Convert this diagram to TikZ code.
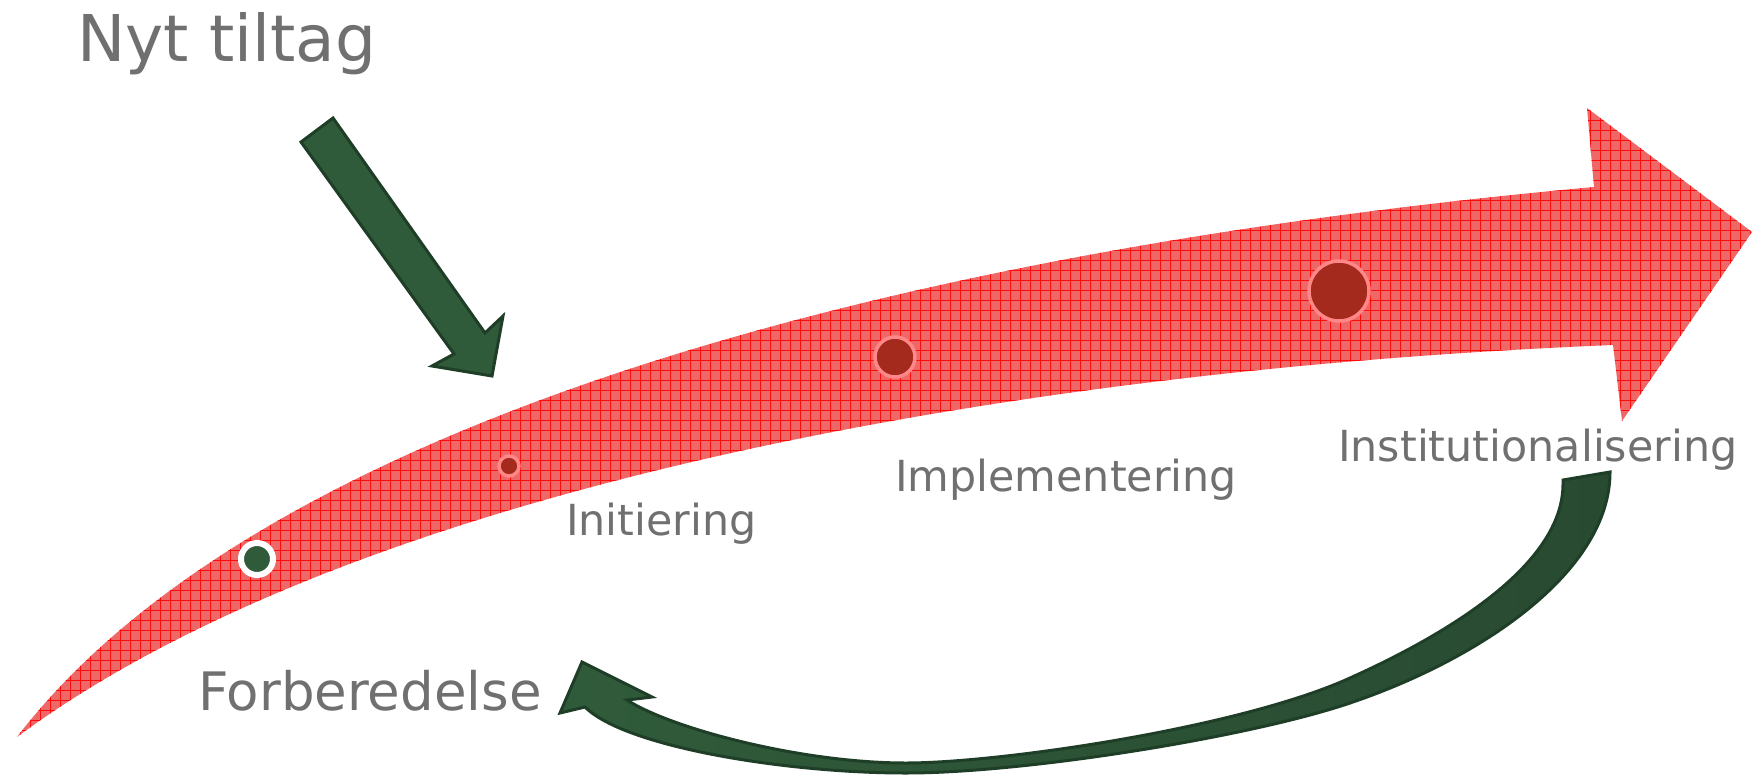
\documentclass[tikz,border=0pt]{standalone}
\usepackage{fontspec}
\setmainfont{DejaVu Sans}
\usepackage{tikz}
\definecolor{arrowred}{RGB}{238,104,104}
\definecolor{gridred}{RGB}{255,10,10}
\definecolor{dotred}{RGB}{165,42,30}
\definecolor{halored}{RGB}{255,135,135}
\definecolor{leafgreen}{RGB}{48,91,58}
\definecolor{deepleaf}{RGB}{40,74,49}
\definecolor{darkleaf}{RGB}{31,62,39}
\definecolor{labelgray}{RGB}{112,112,112}
\tikzset{
	phase/.style = {text = labelgray, inner sep = 0pt, anchor = base west, font = \fontsize{42.8}{50}\selectfont},
	greenarrow/.style = {fill = leafgreen, draw = darkleaf, line width = 3pt, line join = miter},
	stagedot/.style = {fill = dotred, draw = halored, line width = 3.5pt}
}

\begin{document}
\begin{tikzpicture}[x = 1pt, y = -1pt]
\useasboundingbox (0,0) rectangle (1752,776);

% the red process arrow with its grid texture
\fill[arrowred, path picture = {\draw[gridred, line width = 0.9pt, step = 10pt] (path picture bounding box.south west) grid (path picture bounding box.north east);}]
	(17,737) .. controls (260,420) and (900,250) .. (1594,187)
	-- (1587,108) -- (1752,232) -- (1622,421) -- (1613,345)
	.. controls (1000,370) and (350,490) .. (17,737)
	-- cycle;

% stages on the arrow
\draw[fill = leafgreen, draw = white, line width = 6pt] (257,559) circle[radius = 16];
\foreach \x/\y/\r in {509/466/10, 895/357/20, 1339/291/30}
	\draw[stagedot] (\x,\y) circle[radius = \r];

% new initiative coming in
\draw[greenarrow] (333,118) -- (485,333) -- (503,316) -- (492,376) -- (432,366) -- (454,354) -- (301,142) -- cycle;

% feedback loop back to the start
\draw[greenarrow, left color = leafgreen, right color = deepleaf] (1610,472)
	.. controls (1610,572) and (1480,659) .. (1350,703)
	.. controls (1250,737) and (1026,773) .. (906,773)
	.. controls (786,773) and (625,747) .. (585,707)
	-- (560,713) -- (582,662) -- (652,697) -- (627,700)
	.. controls (670,728) and (800,763) .. (906,763)
	.. controls (1000,763) and (1240,728) .. (1350,678)
	.. controls (1450,633) and (1563,564) .. (1563,484)
	-- (1563,480) -- cycle;

\node[phase, font = \fontsize{64.5}{72}\selectfont] (nyt) at (77,62) {Nyt tiltag};
\node[phase, font = \fontsize{53}{60}\selectfont] (forb) at (198,710) {Forberedelse};
\node[phase] (init) at (566,535) {Initiering};
\node[phase] (impl) at (895,491) {Implementering};
\node[phase] (inst) at (1338,461) {Institutionalisering};
\end{tikzpicture}
\end{document}
